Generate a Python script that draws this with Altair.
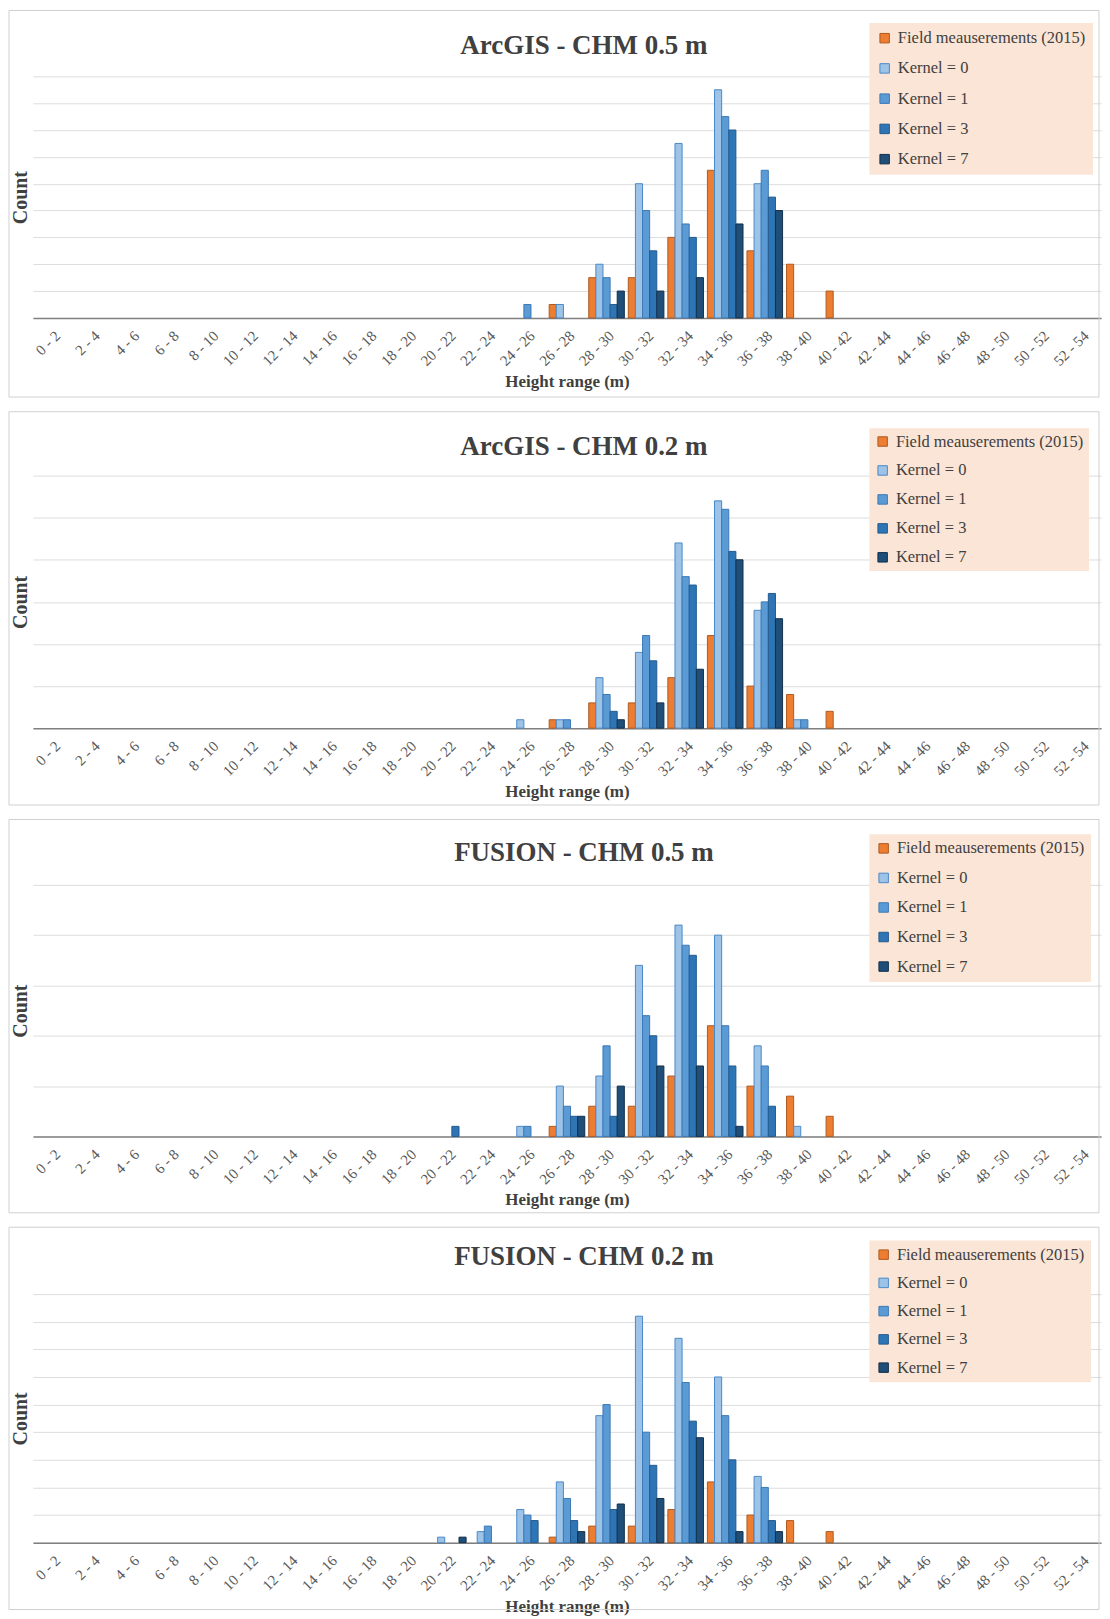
import altair as alt
import pandas as pd

categories = ["0 - 2", "2 - 4", "4 - 6", "6 - 8", "8 - 10", "10 - 12", "12 - 14",
              "14 - 16", "16 - 18", "18 - 20", "20 - 22", "22 - 24", "24 - 26",
              "26 - 28", "28 - 30", "30 - 32", "32 - 34", "34 - 36", "36 - 38",
              "38 - 40", "40 - 42", "42 - 44", "44 - 46", "46 - 48", "48 - 50",
              "50 - 52", "52 - 54"]

series = ["Field meauserements (2015)", "Kernel = 0", "Kernel = 1", "Kernel = 3", "Kernel = 7"]
fills = ["#ED7D31", "#9DC3E6", "#5B9BD5", "#2E75B6", "#1F4E79"]
strokes = ["#AE5A21", "#4A8AC9", "#3C78B5", "#24598C", "#132F4A"]

field_2015 = [0,0,0,0,0,0,0,0,0,0,0,0,0,1,3,3,6,11,5,4,2,0,0,0,0,0,0]

# ArcGIS - CHM 0.5 m
a05_k0 = [0,0,0,0,0,0,0,0,0,0,0,0,0,1,4,10,13,17,10,0,0,0,0,0,0,0,0]
a05_k1 = [0,0,0,0,0,0,0,0,0,0,0,0,1,0,3,8,7,15,11,0,0,0,0,0,0,0,0]
a05_k3 = [0,0,0,0,0,0,0,0,0,0,0,0,0,0,1,5,6,14,9,0,0,0,0,0,0,0,0]
a05_k7 = [0,0,0,0,0,0,0,0,0,0,0,0,0,0,2,2,3,7,8,0,0,0,0,0,0,0,0]

# ArcGIS - CHM 0.2 m
a02_k0 = [0,0,0,0,0,0,0,0,0,0,0,0,1,1,6,9,22,27,14,1,0,0,0,0,0,0,0]
a02_k1 = [0,0,0,0,0,0,0,0,0,0,0,0,0,1,4,11,18,26,15,1,0,0,0,0,0,0,0]
a02_k3 = [0,0,0,0,0,0,0,0,0,0,0,0,0,0,2,8,17,21,16,0,0,0,0,0,0,0,0]
a02_k7 = [0,0,0,0,0,0,0,0,0,0,0,0,0,0,1,3,7,20,13,0,0,0,0,0,0,0,0]

# FUSION - CHM 0.5 m
f05_k0 = [0,0,0,0,0,0,0,0,0,0,0,0,1,5,6,17,21,20,9,1,0,0,0,0,0,0,0]
f05_k1 = [0,0,0,0,0,0,0,0,0,0,0,0,1,3,9,12,19,11,7,0,0,0,0,0,0,0,0]
f05_k3 = [0,0,0,0,0,0,0,0,0,0,1,0,0,2,2,10,18,7,3,0,0,0,0,0,0,0,0]
f05_k7 = [0,0,0,0,0,0,0,0,0,0,0,0,0,2,5,7,7,1,0,0,0,0,0,0,0,0,0]

# FUSION - CHM 0.2 m
f02_k0 = [0,0,0,0,0,0,0,0,0,0,1,2,6,11,23,41,37,30,12,0,0,0,0,0,0,0,0]
f02_k1 = [0,0,0,0,0,0,0,0,0,0,0,3,5,8,25,20,29,23,10,0,0,0,0,0,0,0,0]
f02_k3 = [0,0,0,0,0,0,0,0,0,0,0,0,4,4,6,14,22,15,4,0,0,0,0,0,0,0,0]
f02_k7 = [0,0,0,0,0,0,0,0,0,0,1,0,0,2,7,8,19,2,2,0,0,0,0,0,0,0,0]

FONT = "Liberation Serif"
W = 1070


def panel(title, values, ymax, ystep, H, box_top, box_bottom, leg_y, leg_pad, row_pad, title_y):
    rows = []
    for s, vals in zip(series, values):
        for c, v in zip(categories, vals):
            if v > 0:
                rows.append({"range": c, "series": s, "count": v})
    df = pd.DataFrame(rows)

    legend = alt.Legend(
        orient="none", legendX=838, legendY=leg_y, offset=0, title=None,
        fillColor="#FBE5D6", padding=leg_pad, rowPadding=row_pad,
        symbolType="square", symbolSize=90, symbolStrokeWidth=1,
        labelFont=FONT, labelFontSize=16.5, labelColor="#404040",
        labelOffset=5, labelLimit=400,
    )

    bars = alt.Chart(df).mark_bar(strokeWidth=1).encode(
        x=alt.X("range:N",
                scale=alt.Scale(domain=categories, paddingInner=0.1, paddingOuter=0.05),
                axis=alt.Axis(title="Height range (m)", labelAngle=-45, ticks=False, grid=False,
                              labelPadding=10, labelFont=FONT, labelFontSize=15,
                              labelColor="#595959", domainColor="#808080", domainWidth=1.5,
                              titleFont=FONT, titleFontSize=17, titleFontWeight="bold",
                              titleColor="#404040", titlePadding=5)),
        xOffset=alt.XOffset("series:N", scale=alt.Scale(domain=series)),
        y=alt.Y("count:Q",
                scale=alt.Scale(domain=[0, ymax], nice=False),
                axis=alt.Axis(title="Count", values=list(range(0, ymax + 1, ystep)),
                              labels=False, ticks=False, domain=False,
                              gridColor="#DDDDDD", gridWidth=1,
                              titleFont=FONT, titleFontSize=20, titleFontWeight="bold",
                              titleColor="#404040", titlePadding=2)),
        fill=alt.Fill("series:N", scale=alt.Scale(domain=series, range=fills), legend=legend),
        stroke=alt.Stroke("series:N", scale=alt.Scale(domain=series, range=strokes), legend=None),
    )

    one = pd.DataFrame({"k": [0]})
    border = alt.Chart(one).mark_rect(fillOpacity=0, stroke="#D0D0D0", strokeWidth=1).encode(
        x=alt.value(-24), x2=alt.value(W - 2),
        y=alt.value(box_top), y2=alt.value(H + box_bottom),
    )
    head = alt.Chart(one).mark_text(
        text=title, font=FONT, fontSize=27, fontWeight="bold", color="#404040",
        align="center", baseline="middle",
    ).encode(x=alt.value(W / 2 + 17), y=alt.value(title_y))

    return alt.layer(border, bars, head).properties(width=W, height=H)


p1 = panel("ArcGIS - CHM 0.5 m", [field_2015, a05_k0, a05_k1, a05_k3, a05_k7],
           18, 2, 242, -66, 79.3, -53.5, 7, 13.3, -30.3)
p2 = panel("ArcGIS - CHM 0.2 m", [field_2015, a02_k0, a02_k1, a02_k3, a02_k7],
           30, 5, 253, -64, 77, -47.4, 5, 12, -29)
p3 = panel("FUSION - CHM 0.5 m", [field_2015, f05_k0, f05_k1, f05_k3, f05_k7],
           25, 5, 252, -65.5, 76.5, -50.8, 6, 12.6, -32.3)
p4 = panel("FUSION - CHM 0.2 m", [field_2015, f02_k0, f02_k1, f02_k3, f02_k7],
           45, 5, 249, -67, 67, -53.8, 6, 11.3, -37.5)

chart = alt.vconcat(p1, p2, p3, p4, spacing=12).resolve_scale(
    x="independent", y="independent", fill="independent", stroke="independent"
).resolve_legend(fill="independent", stroke="independent").configure_view(
    stroke="transparent"
).properties(padding=0, background="white")

chart.save("out.html", embed_options={"renderer": "svg", "actions": False})
